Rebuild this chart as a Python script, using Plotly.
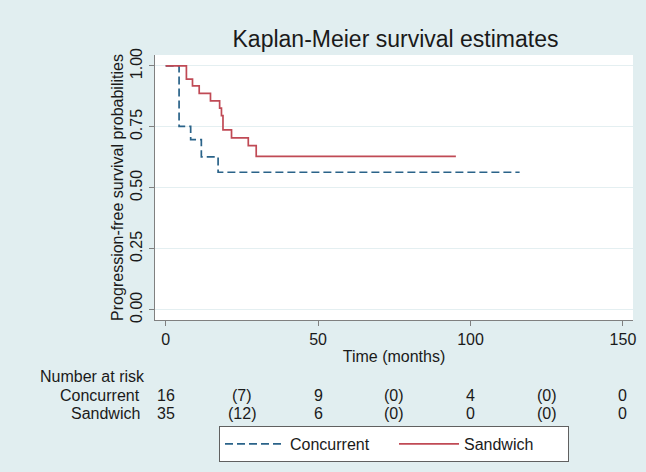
import plotly.graph_objects as go

# ---- data ----
conc_t = [0, 4.4, 8.2, 11.7, 17.2, 116.1]
conc_s = [1.0, 0.752, 0.698, 0.627, 0.564, 0.564]
sand_t = [0, 6.8, 8.8, 11.0, 14.7, 17.7, 18.3, 18.8, 21.6, 27.1, 29.7, 95.2]
sand_s = [1.0, 0.946, 0.918, 0.888, 0.857, 0.827, 0.796, 0.738, 0.705, 0.673, 0.629, 0.629]

risk_times = [0, 25, 50, 75, 100, 125, 150]
risk_conc = ["16", "(7)", "9", "(0)", "4", "(0)", "0"]
risk_sand = ["35", "(12)", "6", "(0)", "0", "(0)", "0"]
x_ticks = [0, 50, 100, 150]
y_ticks = [0, 0.25, 0.5, 0.75, 1.0]
y_ticktext = ["0.00", "0.25", "0.50", "0.75", "1.00"]

FONT = "Arial, Liberation Sans, sans-serif"
BG = "#E1EEF0"
BLUE = "#2A6389"
RED = "#C04A55"
TXT = "#1a1a1a"
FS = 16

fig = go.Figure()
fig.add_trace(go.Scatter(x=conc_t, y=conc_s, mode="lines", name="Concurrent",
                         line=dict(color=BLUE, width=1.7, dash="8px,4px", shape="hv")))
fig.add_trace(go.Scatter(x=sand_t, y=sand_s, mode="lines", name="Sandwich",
                         line=dict(color=RED, width=1.7, shape="hv")))

W, H = 646, 472
ml, mr, mt, mb = 155, 10, 55, 151
ph = H - mt - mb

def py(pix):
    return (H - mb - pix) / ph

ann = []
ann.append(dict(text="Number at risk", xref="paper", yref="paper", x=(37 - ml) / (W - ml - mr),
                y=py(378), xanchor="left", yanchor="middle", showarrow=False,
                font=dict(size=FS, color=TXT, family=FONT)))
for lab, vals, ypix in [("Concurrent", risk_conc, 397), ("Sandwich", risk_sand, 415)]:
    ann.append(dict(text=lab, xref="paper", yref="paper", x=(142 - ml) / (W - ml - mr),
                    y=py(ypix), xanchor="right", yanchor="middle", showarrow=False,
                    font=dict(size=FS, color=TXT, family=FONT)))
    for t, v in zip(risk_times, vals):
        ann.append(dict(text=v, xref="x", yref="paper", x=t, y=py(ypix),
                        xanchor="center", yanchor="middle", showarrow=False,
                        font=dict(size=FS, color=TXT, family=FONT)))

fig.update_layout(
    width=W, height=H,
    margin=dict(l=ml, r=mr, t=mt, b=mb),
    paper_bgcolor=BG, plot_bgcolor="white",
    font=dict(family=FONT, size=FS, color=TXT),
    title=dict(text="Kaplan-Meier survival estimates", x=(ml + (W - ml - mr) / 2) / W,
               xanchor="center", y=1 - 39 / H, yanchor="middle",
               font=dict(size=23, color=TXT, family=FONT)),
    xaxis=dict(range=[-3.5, 153.3], tickvals=x_ticks, showgrid=False, zeroline=False,
               showline=True, linecolor="#808080", linewidth=1.3,
               ticks="outside", ticklen=5, tickcolor="#808080",
               tickfont=dict(size=FS, color=TXT),
               title=dict(text="Time (months)", font=dict(size=FS, color=TXT), standoff=3)),
    yaxis=dict(range=[-0.042, 1.045], tickvals=y_ticks, ticktext=y_ticktext, tickangle=-90,
               showgrid=True, gridcolor="#E4EFF1", gridwidth=1, zeroline=False,
               showline=True, linecolor="#808080", linewidth=1.3,
               ticks="outside", ticklen=5, tickcolor="#808080",
               tickfont=dict(size=FS, color=TXT),
               title=dict(text="Progression-free survival probabilities",
                          font=dict(size=FS, color=TXT), standoff=0)),
    legend=dict(orientation="h", x=0.5, xanchor="center", y=py(445.5), yanchor="middle",
                bgcolor="white", bordercolor="#606060", borderwidth=1,
                font=dict(size=FS, color=TXT), itemwidth=60, entrywidth=99),
    annotations=ann,
)

fig.write_html("out.html", config={"displayModeBar": False},
               post_script="document.body.style.margin='0';")
